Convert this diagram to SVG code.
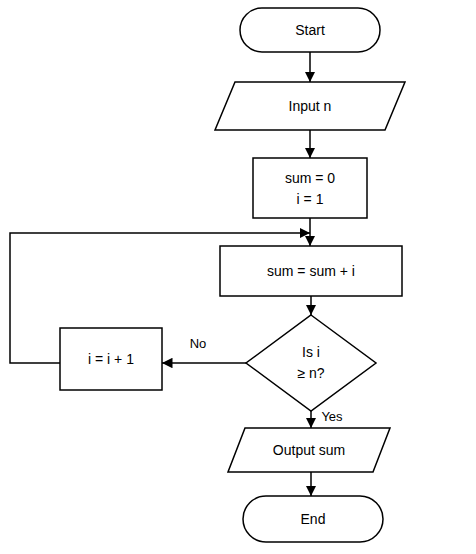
<svg xmlns="http://www.w3.org/2000/svg" width="476" height="554" viewBox="0 0 476 554">
<style>
.n{fill:#ffffff;stroke:#000000;stroke-width:1.5}
.t{font-family:"Liberation Sans",Arial,sans-serif;font-size:14px;fill:#000000;text-anchor:middle;dominant-baseline:central}
.l{font-family:"Liberation Sans",Arial,sans-serif;font-size:13px;fill:#000000;text-anchor:middle;dominant-baseline:central}
.c{fill:none;stroke:#000000;stroke-width:1.5;marker-end:url(#a)}
</style>
<defs>
<marker id="a" viewBox="0 0 10 10" refX="10" refY="5" markerWidth="7" markerHeight="7" orient="auto">
<path d="M0,0 L10,5 L0,10 z" fill="#000000"/>
</marker>
</defs>
<rect width="476" height="554" fill="#ffffff"/>
<g id="connectors">
<line class="c" x1="310" y1="52" x2="310" y2="82"/>
<line class="c" x1="310" y1="130" x2="310" y2="158"/>
<line class="c" x1="310" y1="218" x2="310" y2="246"/>
<line class="c" x1="311" y1="296" x2="311" y2="315"/>
<line class="c" x1="311" y1="411" x2="311" y2="428"/>
<line class="c" x1="311" y1="472" x2="311" y2="496"/>
<line class="c" x1="246" y1="363" x2="162" y2="363"/>
<polyline class="c" points="60,363 10,363 10,233 310,233"/>
<text class="l" x="198" y="343">No</text>
<text class="l" x="332" y="416">Yes</text>
</g>
<g id="start"><rect class="n" x="240" y="8" width="140" height="44" rx="22"/><text class="t" x="310" y="30">Start</text></g>
<g id="input"><polygon class="n" points="235,82 405,82 385,130 215,130"/><text class="t" x="310" y="106">Input n</text></g>
<g id="init"><rect class="n" x="253" y="158" width="114" height="60"/><text class="t" x="310" y="178">sum = 0</text><text class="t" x="310" y="199">i = 1</text></g>
<g id="add"><rect class="n" x="220" y="246" width="182" height="50"/><text class="t" x="311" y="271">sum = sum + i</text></g>
<g id="decision"><polygon class="n" points="311,315 376,363 311,411 246,363"/><text class="t" x="311" y="352">Is i</text><text class="t" x="311" y="373">≥ n?</text></g>
<g id="incr"><rect class="n" x="60" y="328" width="102" height="62"/><text class="t" x="111" y="359">i = i + 1</text></g>
<g id="output"><polygon class="n" points="245,428 390,428 373,472 228,472"/><text class="t" x="309" y="450">Output sum</text></g>
<g id="end"><rect class="n" x="243" y="496" width="140" height="46" rx="23"/><text class="t" x="313" y="519">End</text></g>
</svg>
